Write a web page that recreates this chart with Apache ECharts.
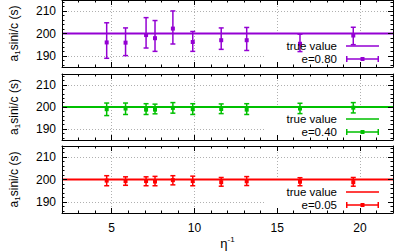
<!DOCTYPE html>
<html>
<head>
<meta charset="utf-8">
<script src="https://cdn.jsdelivr.net/npm/echarts@6/dist/echarts.min.js"></script>
<style>
html,body{margin:0;padding:0;background:#fff;}
#c{width:394px;height:252px;}
</style>
</head>
<body>
<div id="c"></div>
<script>
// ---- data ----
const etaInv = [4.70, 5.84, 7.08, 7.62, 8.70, 9.90, 11.62, 13.16, 16.38, 19.60];
const trueValue = 200;

const y80  = [196.0, 195.9, 199.3, 197.9, 202.2, 196.2, 197.0, 197.0, 195.4, 199.1];
const lo80 = [188.9, 190.1, 193.5, 192.0, 195.3, 192.0, 192.9, 192.4, 191.9, 195.0];
const hi80 = [204.8, 202.5, 207.1, 205.8, 210.1, 200.9, 202.5, 202.7, 199.7, 202.8];

const y40  = [199.0, 199.3, 198.8, 198.8, 199.6, 199.0, 199.1, 198.8, 199.3, 199.7];
const lo40 = [196.1, 196.6, 196.6, 196.9, 197.2, 196.6, 197.0, 196.6, 197.0, 197.3];
const hi40 = [201.8, 201.8, 201.5, 201.3, 202.0, 201.5, 201.4, 201.5, 201.7, 202.0];

const y05  = [199.5, 199.3, 199.3, 199.1, 199.7, 199.3, 198.8, 199.2, 199.0, 198.8];
const lo05 = [197.2, 197.4, 197.2, 197.2, 197.6, 197.2, 197.0, 197.3, 197.2, 197.0];
const hi05 = [201.7, 201.2, 201.2, 201.4, 201.7, 201.5, 200.9, 201.3, 200.8, 200.9];

const seriesNames = ['e=0.80', 'e=0.40', 'e=0.05'];
const trueLabel = 'true value';

const xMin = 2, xMax = 22;
const yMin = 185, yMax = 215;
const xMajorTicks = [5, 10, 15, 20];
const xMinorTicks = [2,3,4,5,6,7,8,9,10,11,12,13,14,15,16,17,18,19,20,21,22];
const yMajorTicks = [190, 200, 210];
const yMinorTicks = [186,188,190,192,194,196,198,200,202,204,206,208,210,212,214];

// ---- styling / layout ----
const FONT = '"Liberation Sans", Arial, Helvetica, sans-serif';
const colors = ['#9400d3', '#00c000', '#ff0000'];
const gridBoxes = [{top: 0, height: 67}, {top: 74, height: 66}, {top: 146, height: 67}];
const legendTops = [40, 113, 186];
const panelData = [[y80, lo80, hi80], [y40, lo40, hi40], [y05, lo05, hi05]];

const chart = echarts.init(document.getElementById('c'), null, {renderer: 'svg'});

const grids = gridBoxes.map(g => ({left: 60, right: 1, top: g.top, height: g.height, containLabel: false}));
const xAxes = [], yAxes = [], series = [], legends = [], graphics = [];
const AX_PER_GRID = 5;

function baseX(i, o) {
  return Object.assign({type: 'value', gridIndex: i, min: xMin, max: xMax,
    axisLine: {show: false, onZero: false}, axisTick: {show: false}, axisLabel: {show: false},
    splitLine: {show: false}, silent: true}, o);
}
function baseY(i, o) {
  return Object.assign({type: 'value', gridIndex: i, min: yMin, max: yMax,
    axisLine: {show: false, onZero: false}, axisTick: {show: false}, axisLabel: {show: false},
    splitLine: {show: false}, silent: true}, o);
}
const gridLineStyle = {color: '#b0b0b0', width: 1, type: [1, 2]};
const borderLine = {show: true, onZero: false, lineStyle: {color: '#000', width: 1}};

for (let i = 0; i < 3; i++) {
  const isLast = i === 2;
  xAxes.push(baseX(i, {z: 0, position: 'bottom', axisTick: {show: false, customValues: xMajorTicks},
    splitLine: {show: true, lineStyle: gridLineStyle}}));
  xAxes.push(baseX(i, {z: 5, position: 'bottom', axisLine: borderLine,
    axisTick: {show: true, inside: true, length: 5, customValues: xMajorTicks, lineStyle: {color: '#000', width: 1}},
    axisLabel: {show: isLast, customValues: xMajorTicks, margin: 9, fontSize: 12, color: '#000', fontFamily: FONT},
    name: isLast ? '{e|η}{s|-1}' : '', nameLocation: 'middle', nameGap: 22,
    nameTextStyle: {color: '#000', fontFamily: FONT, rich: {
      e: {fontSize: 13, fontFamily: FONT, color: '#000'},
      s: {fontSize: 8, fontFamily: FONT, color: '#000', padding: [0, 0, 9, 0]}}}}));
  xAxes.push(baseX(i, {z: 5, position: 'bottom',
    axisTick: {show: true, inside: true, length: 2.5, customValues: xMinorTicks, lineStyle: {color: '#000', width: 1}}}));
  xAxes.push(baseX(i, {z: 5, position: 'top', axisLine: borderLine,
    axisTick: {show: true, inside: true, length: 5, customValues: xMajorTicks, lineStyle: {color: '#000', width: 1}}}));
  xAxes.push(baseX(i, {z: 5, position: 'top',
    axisTick: {show: true, inside: true, length: 2.5, customValues: xMinorTicks, lineStyle: {color: '#000', width: 1}}}));

  yAxes.push(baseY(i, {z: 0, position: 'left', axisTick: {show: false, customValues: yMajorTicks},
    splitLine: {show: true, lineStyle: gridLineStyle}}));
  yAxes.push(baseY(i, {z: 5, position: 'left', axisLine: borderLine,
    axisTick: {show: true, inside: true, length: 5, customValues: yMajorTicks, lineStyle: {color: '#000', width: 1}},
    axisLabel: {show: true, customValues: yMajorTicks, margin: 6, fontSize: 12, color: '#000', fontFamily: FONT},
    name: '{n|a}{s|1}{n|sini/c (s)}', nameLocation: 'middle', nameGap: 41,
    nameTextStyle: {color: '#000', fontFamily: FONT, rich: {
      n: {fontSize: 12, fontFamily: FONT, color: '#000'},
      s: {fontSize: 8, fontFamily: FONT, color: '#000', padding: [6, 0, 0, 0]}}}}));
  yAxes.push(baseY(i, {z: 5, position: 'left',
    axisTick: {show: true, inside: true, length: 2.5, customValues: yMinorTicks, lineStyle: {color: '#000', width: 1}}}));
  yAxes.push(baseY(i, {z: 5, position: 'right', axisLine: borderLine,
    axisTick: {show: true, inside: true, length: 5, customValues: yMajorTicks, lineStyle: {color: '#000', width: 1}}}));
  yAxes.push(baseY(i, {z: 5, position: 'right',
    axisTick: {show: true, inside: true, length: 2.5, customValues: yMinorTicks, lineStyle: {color: '#000', width: 1}}}));

  const xi = i * AX_PER_GRID + 1, yi = i * AX_PER_GRID + 1;
  const color = colors[i];
  const tvName = trueLabel + ' '.repeat(i);
  const [ys, los, his] = panelData[i];

  series.push({
    type: 'line', name: tvName, xAxisIndex: xi, yAxisIndex: yi, z: 2,
    data: [[xMin, trueValue], [xMax, trueValue]],
    symbol: 'none', silent: true, animation: false,
    lineStyle: {color: color, width: 2}, itemStyle: {color: color}
  });
  series.push({
    type: 'custom', name: seriesNames[i], xAxisIndex: xi, yAxisIndex: yi, z: 3,
    data: etaInv.map((x, k) => [x, ys[k], los[k], his[k]]),
    encode: {x: 0, y: 1}, silent: true, animation: false,
    itemStyle: {color: color},
    renderItem: function (params, api) {
      const p = api.coord([api.value(0), api.value(1)]);
      const pl = api.coord([api.value(0), api.value(2)]);
      const ph = api.coord([api.value(0), api.value(3)]);
      const c = api.visual('color');
      const cw = 2.5;
      const st = {stroke: c, lineWidth: 1.5};
      return {type: 'group', children: [
        {type: 'line', shape: {x1: p[0], y1: pl[1], x2: p[0], y2: ph[1]}, style: st},
        {type: 'line', shape: {x1: p[0] - cw, y1: pl[1], x2: p[0] + cw, y2: pl[1]}, style: st},
        {type: 'line', shape: {x1: p[0] - cw, y1: ph[1], x2: p[0] + cw, y2: ph[1]}, style: st},
        {type: 'rect', shape: {x: p[0] - 2, y: p[1] - 2, width: 4, height: 4}, style: {fill: c}}
      ]};
    }
  });

  legends.push({
    orient: 'vertical', right: 15, top: legendTops[i], padding: 0, itemGap: 1,
    itemWidth: 33, itemHeight: 6, align: 'right', selectedMode: false,
    itemStyle: {borderWidth: 0},
    formatter: n => n.trim(),
    textStyle: {fontSize: 11.5, color: '#000', fontFamily: FONT, lineHeight: 11, padding: [0, 4, 0, 0]},
    data: [
      {name: tvName, icon: 'path://M0,0h0.01v0.01h-0.01z M33,6h-0.01v-0.01h0.01z M0,2.2h33v1.6h-33z'},
      {name: seriesNames[i], icon: 'path://M0,0h1.5v6h-1.5z M31.5,0h1.5v6h-1.5z M0,2.25h33v1.5h-33z M14.5,1h4v4h-4z'}
    ]
  });

  graphics.push({type: 'rect', z: 1, silent: true,
    shape: {x: 265, y: legendTops[i] - 7, width: 128, height: gridBoxes[i].top + gridBoxes[i].height - (legendTops[i] - 7)},
    style: {fill: '#fff'}});
}

chart.setOption({
  animation: false,
  textStyle: {fontFamily: FONT},
  grid: grids,
  xAxis: xAxes,
  yAxis: yAxes,
  legend: legends,
  graphic: {elements: graphics},
  series: series
});
</script>
</body>
</html>
